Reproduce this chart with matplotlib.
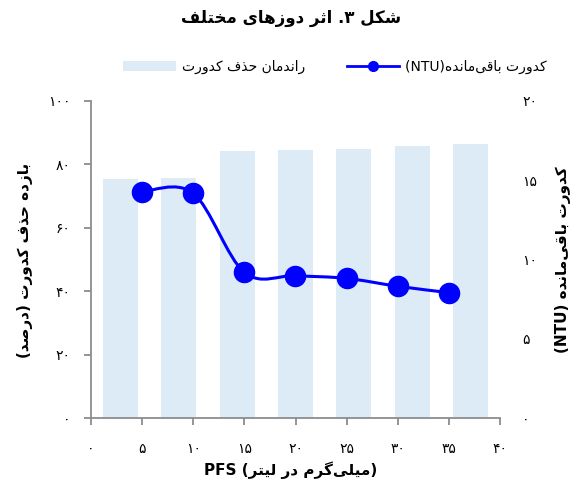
import matplotlib
matplotlib.use("Agg")
import matplotlib.pyplot as plt
from matplotlib.lines import Line2D
from matplotlib.patches import Patch, PathPatch
from matplotlib.path import Path
import numpy as np

doses = [5, 10, 15, 20, 25, 30, 35]
removal_pct = [75.4, 75.7, 84.2, 84.5, 84.9, 85.9, 86.4]
residual_ntu = [14.28, 14.18, 9.19, 8.98, 8.81, 8.31, 7.91]

x_ticks = [0, 5, 10, 15, 20, 25, 30, 35, 40]
left_ticks = [0, 20, 40, 60, 80, 100]
right_ticks = [0, 5, 10, 15, 20]

BAR_COLOR = "#ddebf7"
LINE_COLOR = "#0000ff"
SPINE_COLOR = "#8c8c8c"

# --- minimal Arabic/Persian shaping (matplotlib 3.10 has no text shaping) ---
FORMS = {
    "ا": ("\ufe8d", "\ufe8e"), "د": ("\ufea9", "\ufeaa"), "ذ": ("\ufeab", "\ufeac"),
    "ر": ("\ufead", "\ufeae"), "ز": ("\ufeaf", "\ufeb0"), "و": ("\ufeed", "\ufeee"),
    "ب": ("\ufe8f", "\ufe90", "\ufe91", "\ufe92"), "ت": ("\ufe95", "\ufe96", "\ufe97", "\ufe98"),
    "ث": ("\ufe99", "\ufe9a", "\ufe9b", "\ufe9c"), "ح": ("\ufea1", "\ufea2", "\ufea3", "\ufea4"),
    "خ": ("\ufea5", "\ufea6", "\ufea7", "\ufea8"), "ش": ("\ufeb5", "\ufeb6", "\ufeb7", "\ufeb8"),
    "ص": ("\ufeb9", "\ufeba", "\ufebb", "\ufebc"), "ف": ("\ufed1", "\ufed2", "\ufed3", "\ufed4"),
    "ق": ("\ufed5", "\ufed6", "\ufed7", "\ufed8"), "ل": ("\ufedd", "\ufede", "\ufedf", "\ufee0"),
    "م": ("\ufee1", "\ufee2", "\ufee3", "\ufee4"), "ن": ("\ufee5", "\ufee6", "\ufee7", "\ufee8"),
    "ه": ("\ufee9", "\ufeea", "\ufeeb", "\ufeec"), "ک": ("\ufb8e", "\ufb8f", "\ufb90", "\ufb91"),
    "گ": ("\ufb92", "\ufb93", "\ufb94", "\ufb95"), "ی": ("\ufbfc", "\ufbfd", "\ufbfe", "\ufbff"),
}


def shape(s):
    out = []
    for i, ch in enumerate(s):
        forms = FORMS.get(ch)
        if forms is None:
            out.append(ch)
            continue
        prev = s[i - 1] if i > 0 else ""
        nxt = s[i + 1] if i + 1 < len(s) else ""
        join_prev = prev in FORMS and len(FORMS[prev]) == 4
        join_next = len(forms) == 4 and nxt in FORMS
        if join_prev and join_next:
            out.append(forms[3])
        elif join_prev:
            out.append(forms[1])
        elif join_next:
            out.append(forms[2])
        else:
            out.append(forms[0])
    return "".join(out).replace("\u200c", "")


def vis(s):
    return shape(s)[::-1].translate({ord("("): ")", ord(")"): "("})


def fa_num(n):
    return str(n).translate(str.maketrans("0123456789", "۰۱۲۳۴۵۶۷۸۹"))


title = vis("اثر دوزهای مختلف") + " .۳ " + vis("شکل")
bar_label = vis("راندمان حذف کدورت")
line_label = "(NTU)" + vis("کدورت باقی\u200cمانده")
left_label = vis("بازده حذف کدورت (درصد)")
right_label = "(NTU) " + vis("کدورت باقی\u200cمانده")
x_label = "PFS (" + vis("میلی\u200cگرم در لیتر") + ")"

fig = plt.figure(figsize=(5.82, 4.86), dpi=100)
ax = fig.add_axes([91 / 582, 68 / 486, 409 / 582, 317 / 486])
ax2 = ax.twinx()

# bars sit on their own category slots spanning the full x range
n = len(doses)
slot = 40 / n
bar_x = [(i + 0.5) * slot for i in range(n)]
ax.bar(bar_x, removal_pct, width=0.6 * slot, color=BAR_COLOR, zorder=1)

# smoothed line (Catmull-Rom as cubic Bezier)
pts = np.column_stack([doses, residual_ntu]).astype(float)
ext = np.vstack([pts[0], pts, pts[-1]])
verts = [tuple(pts[0])]
codes = [Path.MOVETO]
for i in range(len(pts) - 1):
    p0, p1, p2, p3 = ext[i], ext[i + 1], ext[i + 2], ext[i + 3]
    verts += [tuple(p1 + (p2 - p0) / 6), tuple(p2 - (p3 - p1) / 6), tuple(p2)]
    codes += [Path.CURVE4] * 3
ax2.add_patch(PathPatch(Path(verts, codes), fill=False, edgecolor=LINE_COLOR, lw=2.2, zorder=3))
ax2.plot(doses, residual_ntu, "o", color=LINE_COLOR, markersize=14.5, zorder=4)

ax.set_xlim(0, 40)
ax.set_ylim(0, 100)
ax2.set_ylim(0, 20)

ax.set_xticks(x_ticks)
ax.set_xticklabels([fa_num(v) for v in x_ticks], fontsize=10)
ax.set_yticks(left_ticks)
ax.set_yticklabels([fa_num(v) for v in left_ticks], fontsize=10)
ax2.set_yticks(right_ticks)
ax2.set_yticklabels([fa_num(v) for v in right_ticks], fontsize=10)

for side in ["top", "right"]:
    ax.spines[side].set_visible(False)
for side in ["top", "right", "left", "bottom"]:
    ax2.spines[side].set_visible(False)
for side in ["left", "bottom"]:
    ax.spines[side].set_color(SPINE_COLOR)
    ax.spines[side].set_linewidth(1.3)

ax.tick_params(axis="x", direction="out", length=5, width=1.3, color=SPINE_COLOR, pad=12)
ax.tick_params(axis="y", direction="out", length=5, width=1.3, color=SPINE_COLOR, pad=10)
ax2.tick_params(axis="y", length=0, pad=16)

fig.text(291 / 582, 1 - 470 / 486, x_label, fontsize=11, fontweight="bold", ha="center", va="center")
fig.text(25 / 582, 1 - 260 / 486, left_label, rotation=90, fontsize=11, fontweight="bold",
         ha="center", va="center")
fig.text(563 / 582, 1 - 260 / 486, right_label, rotation=90, fontsize=11, fontweight="bold",
         ha="center", va="center")
fig.text(291 / 582, 1 - 18 / 486, title, fontsize=12, fontweight="bold", ha="center", va="center")

handles = [
    Patch(facecolor=BAR_COLOR, edgecolor="none"),
    Line2D([0], [0], color=LINE_COLOR, lw=2, marker="o", markersize=7),
]
fig.legend(handles, [bar_label, line_label], loc="center", bbox_to_anchor=(335 / 582, 1 - 67 / 486),
           ncol=2, frameon=False, fontsize=10, handlelength=3.8, handleheight=0.75,
           handletextpad=0.4, columnspacing=3.0)

fig.savefig("out.png", dpi=100)
